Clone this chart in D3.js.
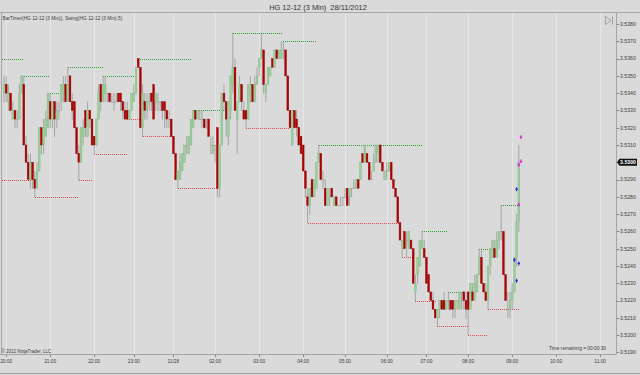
<!DOCTYPE html>
<html><head><meta charset="utf-8">
<script src="https://cdn.jsdelivr.net/npm/d3@7"></script>
<style>html,body{margin:0;padding:0;background:#dadada;}svg{display:block;font-family:"Liberation Sans",Arial,sans-serif;}</style>
</head><body><svg id="c" width="640" height="375"></svg>
<script>
// [open, high, low, close] per 3-minute bar
const ohlc = [
[3.5340,3.5350,3.5335,3.5345],[3.5345,3.5350,3.5335,3.5340],[3.5335,3.5345,3.5330,3.5340],[3.5340,3.5340,3.5330,3.5330],
[3.5325,3.5335,3.5325,3.5330],[3.5330,3.5330,3.5320,3.5325],[3.5325,3.5330,3.5320,3.5325],[3.5325,3.5345,3.5325,3.5340],
[3.5340,3.5350,3.5340,3.5350],[3.5345,3.5350,3.5310,3.5310],[3.5310,3.5315,3.5300,3.5300],[3.5300,3.5305,3.5290,3.5290],
[3.5290,3.5305,3.5285,3.5300],[3.5300,3.5300,3.5285,3.5290],[3.5290,3.5295,3.5280,3.5285],[3.5285,3.5300,3.5285,3.5295],
[3.5295,3.5320,3.5295,3.5320],[3.5320,3.5320,3.5305,3.5310],[3.5310,3.5325,3.5305,3.5320],[3.5315,3.5330,3.5315,3.5325],
[3.5320,3.5340,3.5320,3.5340],[3.5335,3.5340,3.5320,3.5325],[3.5325,3.5335,3.5320,3.5335],[3.5335,3.5335,3.5315,3.5325],
[3.5325,3.5335,3.5320,3.5330],[3.5330,3.5335,3.5325,3.5330],[3.5335,3.5345,3.5330,3.5345],[3.5340,3.5350,3.5335,3.5345],
[3.5345,3.5350,3.5335,3.5335],[3.5335,3.5355,3.5335,3.5345],[3.5350,3.5350,3.5335,3.5335],[3.5335,3.5340,3.5325,3.5330],
[3.5335,3.5335,3.5320,3.5320],[3.5320,3.5320,3.5305,3.5305],[3.5305,3.5310,3.5290,3.5300],[3.5300,3.5320,3.5300,3.5320],
[3.5315,3.5325,3.5310,3.5320],[3.5330,3.5330,3.5315,3.5320],[3.5315,3.5335,3.5315,3.5330],[3.5330,3.5330,3.5320,3.5325],
[3.5325,3.5325,3.5310,3.5310],[3.5315,3.5315,3.5305,3.5310],[3.5310,3.5325,3.5310,3.5325],[3.5325,3.5345,3.5325,3.5340],
[3.5345,3.5345,3.5330,3.5335],[3.5335,3.5350,3.5335,3.5345],[3.5340,3.5350,3.5335,3.5345],[3.5340,3.5340,3.5335,3.5340],
[3.5340,3.5340,3.5335,3.5335],[3.5335,3.5340,3.5335,3.5335],[3.5335,3.5340,3.5330,3.5335],[3.5335,3.5340,3.5335,3.5335],
[3.5340,3.5340,3.5335,3.5335],[3.5340,3.5340,3.5330,3.5335],[3.5335,3.5335,3.5325,3.5330],[3.5330,3.5335,3.5325,3.5325],
[3.5330,3.5335,3.5325,3.5325],[3.5325,3.5330,3.5325,3.5330],[3.5330,3.5340,3.5330,3.5340],[3.5335,3.5345,3.5335,3.5340],
[3.5340,3.5355,3.5340,3.5355],[3.5360,3.5360,3.5355,3.5355],[3.5355,3.5355,3.5320,3.5320],[3.5320,3.5345,3.5315,3.5340],
[3.5335,3.5340,3.5325,3.5330],[3.5330,3.5340,3.5325,3.5335],[3.5335,3.5340,3.5330,3.5335],[3.5340,3.5340,3.5330,3.5335],
[3.5345,3.5345,3.5325,3.5325],[3.5335,3.5340,3.5330,3.5340],[3.5335,3.5340,3.5330,3.5335],[3.5335,3.5335,3.5330,3.5335],
[3.5335,3.5335,3.5325,3.5330],[3.5335,3.5335,3.5320,3.5330],[3.5330,3.5330,3.5320,3.5325],[3.5325,3.5330,3.5320,3.5325],
[3.5325,3.5325,3.5315,3.5315],[3.5315,3.5315,3.5305,3.5305],[3.5305,3.5305,3.5290,3.5290],[3.5290,3.5295,3.5285,3.5295],
[3.5290,3.5305,3.5290,3.5300],[3.5295,3.5305,3.5295,3.5305],[3.5300,3.5310,3.5300,3.5310],[3.5310,3.5315,3.5305,3.5310],
[3.5305,3.5315,3.5305,3.5315],[3.5310,3.5325,3.5310,3.5325],[3.5320,3.5330,3.5320,3.5330],[3.5330,3.5330,3.5325,3.5325],
[3.5325,3.5330,3.5325,3.5330],[3.5325,3.5330,3.5325,3.5325],[3.5325,3.5330,3.5320,3.5325],[3.5325,3.5325,3.5320,3.5320],
[3.5320,3.5325,3.5320,3.5320],[3.5325,3.5325,3.5315,3.5315],[3.5310,3.5315,3.5305,3.5310],[3.5305,3.5315,3.5305,3.5310],
[3.5310,3.5310,3.5300,3.5310],[3.5320,3.5320,3.5280,3.5285],[3.5285,3.5310,3.5280,3.5310],[3.5310,3.5340,3.5310,3.5340],
[3.5340,3.5345,3.5330,3.5335],[3.5335,3.5335,3.5315,3.5325],[3.5315,3.5335,3.5310,3.5335],[3.5330,3.5350,3.5325,3.5350],
[3.5345,3.5375,3.5340,3.5355],[3.5355,3.5360,3.5330,3.5330],[3.5325,3.5335,3.5305,3.5335],[3.5335,3.5350,3.5335,3.5345],
[3.5345,3.5345,3.5330,3.5335],[3.5330,3.5335,3.5325,3.5325],[3.5330,3.5330,3.5320,3.5325],[3.5325,3.5345,3.5325,3.5345],
[3.5340,3.5350,3.5335,3.5345],[3.5345,3.5345,3.5335,3.5335],[3.5335,3.5350,3.5335,3.5345],[3.5345,3.5355,3.5345,3.5350],
[3.5355,3.5360,3.5350,3.5360],[3.5360,3.5375,3.5360,3.5365],[3.5365,3.5365,3.5340,3.5345],[3.5340,3.5345,3.5335,3.5345],
[3.5345,3.5355,3.5345,3.5355],[3.5350,3.5355,3.5350,3.5355],[3.5360,3.5360,3.5355,3.5355],[3.5355,3.5365,3.5355,3.5365],
[3.5365,3.5365,3.5360,3.5360],[3.5360,3.5365,3.5360,3.5365],[3.5360,3.5370,3.5360,3.5365],[3.5365,3.5370,3.5360,3.5365],
[3.5365,3.5365,3.5350,3.5350],[3.5350,3.5350,3.5330,3.5330],[3.5330,3.5330,3.5320,3.5320],[3.5310,3.5330,3.5310,3.5330],
[3.5330,3.5330,3.5320,3.5320],[3.5325,3.5330,3.5315,3.5320],[3.5320,3.5320,3.5310,3.5310],[3.5315,3.5315,3.5305,3.5305],
[3.5310,3.5310,3.5295,3.5295],[3.5295,3.5295,3.5280,3.5285],[3.5280,3.5285,3.5265,3.5275],[3.5275,3.5285,3.5270,3.5285],
[3.5290,3.5290,3.5280,3.5280],[3.5280,3.5290,3.5280,3.5290],[3.5285,3.5300,3.5285,3.5300],[3.5300,3.5310,3.5300,3.5305],
[3.5305,3.5305,3.5290,3.5290],[3.5290,3.5295,3.5285,3.5290],[3.5285,3.5290,3.5275,3.5275],[3.5275,3.5285,3.5275,3.5285],
[3.5280,3.5285,3.5275,3.5280],[3.5285,3.5285,3.5280,3.5280],[3.5275,3.5280,3.5275,3.5280],[3.5280,3.5280,3.5275,3.5275],
[3.5275,3.5275,3.5275,3.5275],[3.5275,3.5280,3.5275,3.5275],[3.5280,3.5280,3.5275,3.5280],[3.5280,3.5285,3.5280,3.5280],
[3.5285,3.5285,3.5275,3.5275],[3.5280,3.5285,3.5275,3.5285],[3.5285,3.5285,3.5280,3.5285],[3.5285,3.5290,3.5285,3.5285],
[3.5285,3.5290,3.5285,3.5290],[3.5290,3.5290,3.5285,3.5285],[3.5290,3.5300,3.5290,3.5300],[3.5305,3.5305,3.5300,3.5300],
[3.5300,3.5310,3.5300,3.5310],[3.5305,3.5305,3.5300,3.5300],[3.5300,3.5300,3.5290,3.5290],[3.5290,3.5295,3.5290,3.5290],
[3.5295,3.5305,3.5295,3.5300],[3.5300,3.5310,3.5300,3.5310],[3.5305,3.5310,3.5300,3.5310],[3.5310,3.5310,3.5300,3.5300],
[3.5300,3.5300,3.5295,3.5295],[3.5290,3.5295,3.5290,3.5295],[3.5295,3.5300,3.5290,3.5295],[3.5295,3.5300,3.5295,3.5300],
[3.5300,3.5300,3.5290,3.5290],[3.5290,3.5290,3.5285,3.5285],[3.5285,3.5285,3.5280,3.5280],[3.5280,3.5280,3.5265,3.5265],
[3.5265,3.5265,3.5255,3.5255],[3.5250,3.5255,3.5245,3.5255],[3.5260,3.5260,3.5250,3.5250],[3.5255,3.5260,3.5245,3.5255],
[3.5250,3.5260,3.5250,3.5260],[3.5255,3.5255,3.5250,3.5250],[3.5250,3.5250,3.5230,3.5230],[3.5225,3.5235,3.5220,3.5230],
[3.5235,3.5245,3.5230,3.5245],[3.5240,3.5255,3.5240,3.5255],[3.5250,3.5260,3.5250,3.5255],[3.5250,3.5255,3.5245,3.5245],
[3.5245,3.5245,3.5230,3.5230],[3.5235,3.5235,3.5225,3.5225],[3.5225,3.5225,3.5220,3.5220],[3.5220,3.5225,3.5215,3.5215],
[3.5215,3.5215,3.5210,3.5210],[3.5210,3.5215,3.5205,3.5215],[3.5215,3.5220,3.5210,3.5220],[3.5220,3.5220,3.5215,3.5215],
[3.5220,3.5225,3.5215,3.5215],[3.5215,3.5220,3.5215,3.5220],[3.5220,3.5225,3.5215,3.5220],[3.5220,3.5220,3.5215,3.5215],
[3.5220,3.5220,3.5210,3.5215],[3.5215,3.5220,3.5210,3.5220],[3.5220,3.5220,3.5215,3.5220],[3.5215,3.5225,3.5215,3.5225],
[3.5220,3.5225,3.5215,3.5220],[3.5225,3.5225,3.5215,3.5220],[3.5220,3.5225,3.5210,3.5215],[3.5225,3.5225,3.5200,3.5215],
[3.5215,3.5230,3.5215,3.5230],[3.5225,3.5230,3.5220,3.5220],[3.5220,3.5235,3.5220,3.5230],[3.5225,3.5235,3.5225,3.5235],
[3.5235,3.5250,3.5235,3.5245],[3.5245,3.5250,3.5230,3.5230],[3.5230,3.5230,3.5225,3.5225],[3.5225,3.5230,3.5220,3.5220],
[3.5220,3.5240,3.5215,3.5240],[3.5240,3.5250,3.5235,3.5250],[3.5245,3.5255,3.5245,3.5255],[3.5250,3.5255,3.5245,3.5245],
[3.5245,3.5260,3.5245,3.5255],[3.5255,3.5260,3.5250,3.5260],[3.5260,3.5275,3.5255,3.5260],[3.5260,3.5260,3.5235,3.5235],
[3.5235,3.5235,3.5220,3.5220],[3.5215,3.5225,3.5210,3.5215],[3.5215,3.5225,3.5210,3.5220],[3.5220,3.5230,3.5215,3.5225],
[3.5225,3.5245,3.5225,3.5245],[3.5245,3.5270,3.5240,3.5265],[3.5265,3.5310,3.5260,3.5300]
];
const timeTickIndex = [1,21,41,59,77,96,116,136,155,174,192,211,231,251,271];
const timeTickLabels = ["20:00","21:00","22:00","23:00","11/28","02:00","03:00","04:00","05:00","06:00","07:00","08:00","09:00","10:00","11:00"];
const priceTicks = [3.5190,3.5200,3.5210,3.5220,3.5230,3.5240,3.5250,3.5260,3.5270,3.5280,3.5290,3.5300,3.5310,3.5320,3.5330,3.5340,3.5350,3.5360,3.5370,3.5380];
// [startBar, endBar, price]
const swingHighs = [[-1,8,3.5360],[8,20,3.5350],[20,26,3.5340],[29,45,3.5355],[45,60,3.5350],[61,85,3.5360],[86,100,3.5330],[104,126,3.5375],[127,142,3.5370],[143,190,3.5310],[190,201,3.5260],[202,208,3.5225],[216,222,3.5250],[226,234,3.5275]];
const swingLows = [[-1,12,3.5290],[14,33,3.5280],[34,40,3.5290],[41,56,3.5305],[56,62,3.5325],[63,76,3.5315],[79,97,3.5285],[110,129,3.5320],[138,179,3.5265],[181,186,3.5245],[187,196,3.5220],[197,211,3.5205],[211,219,3.5200],[220,234,3.5215]];
// [bar, price, side]
const executions = [[235,3.5314,"sell"],[234,3.5298,"sell"],[235,3.5300,"sell"],[234,3.5275,"sell"],[233,3.5285,"buy"],[232,3.5244,"buy"],[234,3.5242,"buy"],[233,3.5232,"buy"]];
const lastPrice = 3.5300;
const titleText = "HG 12-12 (3 Min)\u00A0\u00A028/11/2012";
const indicatorText = "BarTimer(HG 12-12 (3 Min)), Swing(HG 12-12 (3 Min),5)";
const copyrightText = "\u00A9 2012 NinjaTrader, LLC";
const timerText = "Time remaining = 00:00:30";

const svg = d3.select("#c");
const W = 640, H = 375;
const plot = {l: 1.5, t: 12.5, r: 616.5, b: 354.5};
const x = d3.scaleLinear().domain([0, 271]).range([4, 600.2]);
const y = d3.scaleLinear().domain([3.5190, 3.5380]).range([352.4, 24]);
const fmt = d3.format(".4f");
const txt = "#3a3a3a";

svg.append("rect").attr("width", W).attr("height", H).attr("fill", "#dadada");

// frame
const frame = svg.append("g").attr("stroke", "#a6a6a6").attr("stroke-width", 1);
frame.append("line").attr("x1", 0).attr("x2", W).attr("y1", plot.t).attr("y2", plot.t);
frame.append("line").attr("x1", plot.l).attr("x2", plot.l).attr("y1", plot.t).attr("y2", plot.b);
frame.append("line").attr("x1", 0).attr("x2", plot.r).attr("y1", plot.b).attr("y2", plot.b);
frame.append("line").attr("x1", plot.r).attr("x2", plot.r).attr("y1", plot.t).attr("y2", plot.b);
frame.append("line").attr("x1", 0).attr("x2", W).attr("y1", 373.5).attr("y2", 373.5);

svg.append("defs").append("clipPath").attr("id", "clip").append("rect")
  .attr("x", plot.l + 0.5).attr("y", plot.t + 0.5).attr("width", plot.r - plot.l - 1).attr("height", plot.b - plot.t - 1);

// vertical grid
svg.append("g").selectAll("line").data(timeTickIndex).join("line")
  .attr("x1", d => Math.round(x(d)) + 0.5).attr("x2", d => Math.round(x(d)) + 0.5)
  .attr("y1", plot.t + 0.5).attr("y2", plot.b - 0.5)
  .attr("stroke", "#e6e6e6").attr("stroke-width", 1);

const g = svg.append("g").attr("clip-path", "url(#clip)");

// swing lines
function swing(data, color) {
  g.append("g").selectAll("line").data(data).join("line")
    .attr("x1", d => Math.round(x(d[0]))).attr("x2", d => Math.round(x(d[1])) + 1)
    .attr("y1", d => Math.round(y(d[2])) + 0.5).attr("y2", d => Math.round(y(d[2])) + 0.5)
    .attr("stroke", color).attr("stroke-width", 1).attr("stroke-dasharray", "1,1");
}
swing(swingHighs, "#2f9f2f");
swing(swingLows, "#e84848");

// candles
const bw = 1.8;
const cg = g.append("g").selectAll("g").data(ohlc).join("g");
cg.append("line")
  .attr("x1", (d, i) => x(i)).attr("x2", (d, i) => x(i))
  .attr("y1", d => y(d[1])).attr("y2", d => y(d[2]) + 0.5)
  .attr("stroke", "#8e8e8e").attr("stroke-width", 0.7);
cg.append("rect")
  .attr("x", (d, i) => x(i) - bw / 2)
  .attr("y", d => y(Math.max(d[0], d[3])))
  .attr("width", bw)
  .attr("height", d => Math.max(0.8, Math.abs(y(d[0]) - y(d[3]))))
  .attr("fill", d => d[3] > d[0] ? "#9ccf9c" : d[3] < d[0] ? "#b30000" : "#9a9a9a")
  .attr("stroke", d => d[3] > d[0] ? "#86b886" : d[3] < d[0] ? "#8c0000" : "none")
  .attr("stroke-width", 0.4);

// executions
const eg = svg.append("g");
executions.forEach(e => {
  const ex = x(e[0]), ey = y(e[1]);
  if (e[2] === "buy") {
    eg.append("path").attr("d", `M${ex - 1.5},${ey + 1.5}L${ex},${ey - 1.5}L${ex + 1.5},${ey + 1.5}Z`).attr("fill", "#1e2fd6");
    eg.append("rect").attr("x", ex - 0.5).attr("y", ey + 1).attr("width", 1).attr("height", 2).attr("fill", "#1e2fd6");
  } else {
    eg.append("path").attr("d", `M${ex - 1.5},${ey - 1.5}L${ex},${ey + 1.5}L${ex + 1.5},${ey - 1.5}Z`).attr("fill", "#e01ee0");
    eg.append("rect").attr("x", ex - 0.5).attr("y", ey - 3).attr("width", 1).attr("height", 2).attr("fill", "#e01ee0");
  }
});

// y axis
const ya = svg.append("g");
ya.selectAll("line").data(priceTicks).join("line")
  .attr("x1", plot.r).attr("x2", plot.r + 3)
  .attr("y1", d => Math.round(y(d)) + 0.5).attr("y2", d => Math.round(y(d)) + 0.5)
  .attr("stroke", "#8a8a8a");
ya.selectAll("text").data(priceTicks).join("text")
  .attr("x", 620).attr("y", d => y(d)).attr("dy", "0.35em")
  .attr("font-size", 5.2).attr("fill", txt).text(d => fmt(d));

// last price marker
const ly = y(lastPrice);
svg.append("path").attr("d", `M617,${ly}L619.5,${ly - 3.4}L637,${ly - 3.4}L637,${ly + 3.4}L619.5,${ly + 3.4}Z`).attr("fill", "#111");
svg.append("text").attr("x", 628).attr("y", ly).attr("dy", "0.35em").attr("text-anchor", "middle")
  .attr("font-size", 5.2).attr("font-weight", "bold").attr("fill", "#fff").text(fmt(lastPrice));

// x axis
const xa = svg.append("g");
xa.selectAll("line").data(timeTickIndex).join("line")
  .attr("x1", d => Math.round(x(d)) + 0.5).attr("x2", d => Math.round(x(d)) + 0.5)
  .attr("y1", plot.b).attr("y2", plot.b + 2.5).attr("stroke", "#8a8a8a");
xa.selectAll("text").data(timeTickIndex).join("text")
  .attr("x", d => x(d)).attr("y", 362.5).attr("text-anchor", "middle")
  .attr("font-size", 4.8).attr("fill", txt).text((d, i) => timeTickLabels[i]);

// texts
svg.append("text").attr("x", 318).attr("y", 9.8).attr("text-anchor", "middle").attr("font-size", 7.4).attr("fill", "#333").text(titleText);
svg.append("text").attr("x", 2.5).attr("y", 19.5).attr("font-size", 4.8).attr("fill", txt).text(indicatorText);
svg.append("text").attr("x", 1.5).attr("y", 353).attr("font-size", 4.5).attr("fill", txt).text(copyrightText);
svg.append("text").attr("x", 606).attr("y", 350).attr("text-anchor", "end").attr("font-size", 4.8).attr("fill", txt).text(timerText);

// scroll icon
svg.append("path").attr("d", "M605.5,16.5L611,20.5L605.5,24.5Z").attr("fill", "none").attr("stroke", "#8a8a8a").attr("stroke-width", 0.7);
svg.append("line").attr("x1", 612.5).attr("x2", 612.5).attr("y1", 16.5).attr("y2", 24.5).attr("stroke", "#8a8a8a").attr("stroke-width", 0.8);
</script></body></html>
